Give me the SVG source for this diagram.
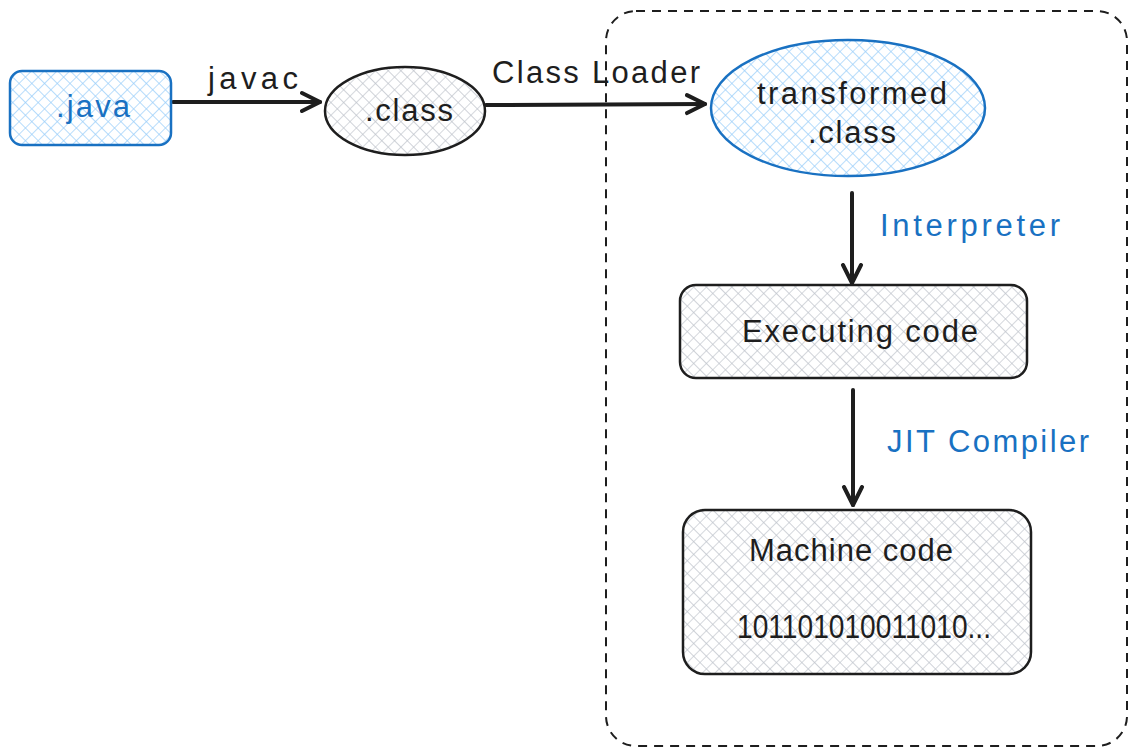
<svg xmlns="http://www.w3.org/2000/svg" width="1135" height="756" viewBox="0 0 1135 756">
<style>
text{font-family:"Liberation Sans","DejaVu Sans",sans-serif;font-size:31px;fill:#1e1e1e;text-anchor:middle;dominant-baseline:central}
.blue{fill:#1971c2}
.edge{stroke:#1e1e1e;stroke-width:4;fill:none;stroke-linecap:round;stroke-linejoin:round}
.nb{stroke:#1e1e1e;stroke-width:2.5}
.nbl{stroke:#1971c2;stroke-width:2.5}
</style>
<defs>
<pattern id="hg" width="9" height="9" patternUnits="userSpaceOnUse" patternTransform="rotate(45)">
<rect width="9" height="9" fill="#ffffff"/>
<path d="M0 0H9M0 0V9" stroke="#bfc4cc" stroke-width="1.3"/>
</pattern>
<pattern id="hb" width="9" height="9" patternUnits="userSpaceOnUse" patternTransform="rotate(45)">
<rect width="9" height="9" fill="#ffffff"/>
<path d="M0 0H9M0 0V9" stroke="#9ccffa" stroke-width="1.4"/>
</pattern>
<marker id="ah" markerWidth="24" markerHeight="24" refX="20" refY="12" orient="auto" markerUnits="userSpaceOnUse">
<path d="M2 3L20 12L2 21" fill="none" stroke="#1e1e1e" stroke-width="4" stroke-linecap="round" stroke-linejoin="round"/>
</marker>
</defs>
<g id="container">
<rect x="606" y="11" width="521" height="735" rx="30" fill="none" stroke="#1e1e1e" stroke-width="2" stroke-dasharray="9 7"/>
</g>
<g id="connectors">
<line class="edge" x1="173" y1="102" x2="320" y2="102" marker-end="url(#ah)"/>
<line class="edge" x1="486" y1="105" x2="705" y2="104" marker-end="url(#ah)"/>
<line class="edge" x1="852" y1="193" x2="852" y2="283" marker-end="url(#ah)"/>
<line class="edge" x1="853" y1="390" x2="853" y2="505" marker-end="url(#ah)"/>
<text x="253" y="78" textLength="90">javac</text>
<text x="596" y="72" textLength="208">Class Loader</text>
<text class="blue" x="970" y="225" textLength="180">Interpreter</text>
<text class="blue" x="988" y="441" textLength="202">JIT Compiler</text>
</g>
<g id="java">
<rect x="10" y="71" width="161" height="74" rx="12" fill="url(#hb)" class="nbl"/>
<text class="blue" x="93" y="106" textLength="74">.java</text>
</g>
<g id="class">
<ellipse cx="405" cy="111" rx="80" ry="44" fill="url(#hg)" class="nb"/>
<text x="409" y="110" textLength="88">.class</text>
</g>
<g id="transformed">
<ellipse cx="848" cy="108" rx="137" ry="68" fill="url(#hb)" class="nbl"/>
<text x="852" y="93" textLength="190">transformed</text>
<text x="852" y="132" textLength="88">.class</text>
</g>
<g id="executing">
<rect x="680" y="285" width="347" height="93" rx="16" fill="url(#hg)" class="nb"/>
<text x="860" y="331" textLength="236">Executing code</text>
</g>
<g id="machine">
<rect x="683" y="510" width="348" height="164" rx="22" fill="url(#hg)" class="nb"/>
<text x="851" y="550" textLength="204">Machine code</text>
<text x="864" y="626" style="font-size:34px" textLength="254" lengthAdjust="spacingAndGlyphs">101101010011010...</text>
</g>
</svg>
